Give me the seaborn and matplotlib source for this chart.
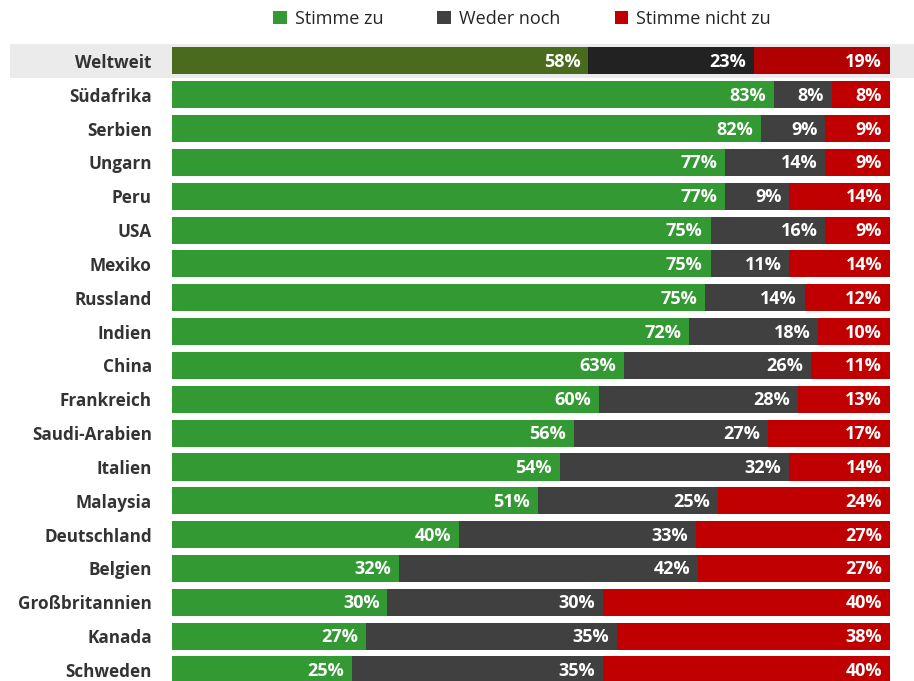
import matplotlib
matplotlib.use("Agg")
import matplotlib.pyplot as plt
from matplotlib.patches import Rectangle, Patch
import seaborn as sns
import pandas as pd
import numpy as np

countries = ["Weltweit", "Südafrika", "Serbien", "Ungarn", "Peru", "USA", "Mexiko",
             "Russland", "Indien", "China", "Frankreich", "Saudi-Arabien", "Italien",
             "Malaysia", "Deutschland", "Belgien", "Großbritannien", "Kanada", "Schweden"]
agree = [58, 83, 82, 77, 77, 75, 75, 75, 72, 63, 60, 56, 54, 51, 40, 32, 30, 27, 25]
neither = [23, 8, 9, 14, 9, 16, 11, 14, 18, 26, 28, 27, 32, 25, 33, 42, 30, 35, 35]
disagree = [19, 8, 9, 9, 14, 9, 14, 12, 10, 11, 13, 17, 14, 24, 27, 27, 40, 38, 40]
series_names = ["Stimme zu", "Weder noch", "Stimme nicht zu"]

colors = ["#339933", "#404040", "#c00000"]
colors_world = ["#4a6a1e", "#222222", "#b00000"]

df = pd.DataFrame({"country": countries, "agree": agree, "neither": neither, "disagree": disagree})
tot = df[["agree", "neither", "disagree"]].sum(axis=1)
df["e1"] = df["agree"] / tot * 100
df["e2"] = (df["agree"] + df["neither"]) / tot * 100
df["e3"] = 100.0

sns.set_theme(style="white")
plt.rcParams["font.family"] = ["Open Sans", "DejaVu Sans"]

fig = plt.figure(figsize=(9.14, 6.81), dpi=100)
# gray band behind Weltweit row
fig.patches.append(Rectangle((10 / 914, 1 - 78 / 681), 904 / 914, 34 / 681,
                             transform=fig.transFigure, facecolor="#ebebeb",
                             edgecolor="none", zorder=-5))
ax = fig.add_axes([172 / 914, 0, (890 - 172) / 914, 1 - 44 / 681])
ax.patch.set_alpha(0)

for col, i in [("e3", 2), ("e2", 1), ("e1", 0)]:
    pal = {c: (colors_world[i] if c == "Weltweit" else colors[i]) for c in countries}
    sns.barplot(data=df, x=col, y="country", hue="country", palette=pal, order=countries,
                hue_order=countries, orient="h", dodge=False, legend=False, ax=ax,
                width=0.8, saturation=1, linewidth=0)

vals = [agree, neither, disagree]
ends = [df["e1"].values, df["e2"].values, df["e3"].values]
for r in range(len(countries)):
    for i in range(3):
        ax.text(ends[i][r] - 1.1, r + 0.03, f"{vals[i][r]}%", ha="right", va="center",
                color="white", fontsize=13, fontweight="bold")

ax.set_xlim(0, 100)
ax.set_ylim(18 + 11 / 33.83, -0.5)
ax.set_xlabel("")
ax.set_ylabel("")
ax.set_xticks([])
ax.tick_params(axis="y", length=0, pad=14.5)
for lab in ax.get_yticklabels():
    lab.set_fontweight("bold")
    lab.set_fontsize(12.3)
    lab.set_color("#333333")
sns.despine(ax=ax, left=True, bottom=True)

handles = [Patch(facecolor=colors[i], edgecolor="none") for i in range(3)]
fig.legend(handles, series_names, loc="center", bbox_to_anchor=(522 / 914, 1 - 19 / 681),
           ncol=3, frameon=False, handlelength=0.75, handleheight=0.75, handletextpad=0.45,
           columnspacing=3.0, fontsize=13, labelcolor="#262626")

fig.savefig("out.png", dpi=100)
